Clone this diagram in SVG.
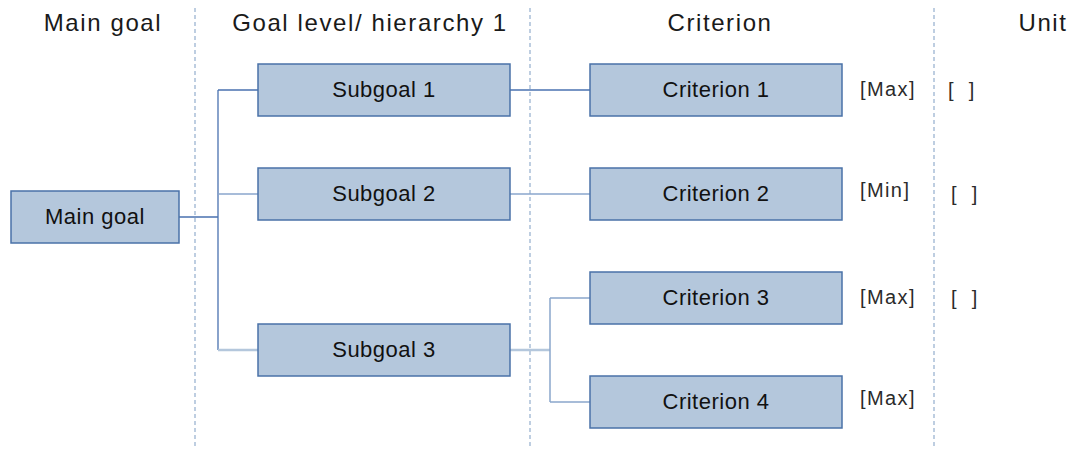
<svg xmlns="http://www.w3.org/2000/svg" width="1077" height="450" viewBox="0 0 1077 450">
<style>
.hdr{font-family:"Liberation Sans",Arial,sans-serif;font-size:24px;letter-spacing:1.6px;fill:#1a1a1a;text-anchor:middle}
.box{fill:#b4c7dc;stroke:#4a72a8;stroke-width:1.5}
.lbl{font-family:"Liberation Sans",Arial,sans-serif;font-size:22px;letter-spacing:0.5px;fill:#111;text-anchor:middle}
.side{font-family:"Liberation Sans",Arial,sans-serif;font-size:20px;letter-spacing:1.4px;fill:#2b2b2b;white-space:pre}
.sep{stroke:#a9bfd8;stroke-width:1.5;stroke-dasharray:4 3;fill:none}
.c{stroke:#4a72b0;stroke-width:1.3;fill:none}
.cl{stroke:#8aa6cc;stroke-width:1.5;fill:none}
.cx{stroke:#b4c7dc;stroke-width:2.5;fill:none}
</style>
<rect width="1077" height="450" fill="#fff"/>
<g id="separators">
<line class="sep" x1="195" y1="8" x2="195" y2="446"/>
<line class="sep" x1="530" y1="8" x2="530" y2="446"/>
<line class="sep" x1="934" y1="8" x2="934" y2="446"/>
</g>
<g id="headers">
<text class="hdr" x="103" y="31">Main goal</text>
<text class="hdr" x="370" y="31">Goal level/ hierarchy 1</text>
<text class="hdr" x="720" y="31">Criterion</text>
<text class="hdr" x="1043" y="31">Unit</text>
</g>
<g id="connectors">
<path class="c" d="M179,217 H218 M218,90 V350 M218,90 H258"/>
<path class="cl" d="M218,194 H258"/>
<path class="cx" d="M218,350 H258"/>
<path class="c" d="M510,90 H590"/>
<path class="cl" d="M510,194 H590"/>
<path class="cx" d="M510,350 H550"/>
<path class="cl" d="M550,298 V402 M550,298 H590 M550,402 H590"/>
</g>
<g id="main-goal"><rect class="box" x="11" y="191" width="168" height="52"/><text class="lbl" x="95" y="224">Main goal</text></g>
<g id="subgoal-1"><rect class="box" x="258" y="64" width="252" height="52"/><text class="lbl" x="384" y="97">Subgoal 1</text></g>
<g id="subgoal-2"><rect class="box" x="258" y="168" width="252" height="52"/><text class="lbl" x="384" y="201">Subgoal 2</text></g>
<g id="subgoal-3"><rect class="box" x="258" y="324" width="252" height="52"/><text class="lbl" x="384" y="357">Subgoal 3</text></g>
<g id="criterion-1"><rect class="box" x="590" y="64" width="252" height="52"/><text class="lbl" x="716" y="97">Criterion 1</text></g>
<g id="criterion-2"><rect class="box" x="590" y="168" width="252" height="52"/><text class="lbl" x="716" y="201">Criterion 2</text></g>
<g id="criterion-3"><rect class="box" x="590" y="272" width="252" height="52"/><text class="lbl" x="716" y="305">Criterion 3</text></g>
<g id="criterion-4"><rect class="box" x="590" y="376" width="252" height="52"/><text class="lbl" x="716" y="409">Criterion 4</text></g>
<g id="annotations">
<text class="side" x="860" y="96">[Max]</text>
<text class="side" x="860" y="197">[Min]</text>
<text class="side" x="860" y="304">[Max]</text>
<text class="side" x="860" y="405">[Max]</text>
<text class="side" x="948" y="97" xml:space="preserve">[  ]</text>
<text class="side" x="951" y="201" xml:space="preserve">[  ]</text>
<text class="side" x="951" y="305" xml:space="preserve">[  ]</text>
</g>
</svg>
